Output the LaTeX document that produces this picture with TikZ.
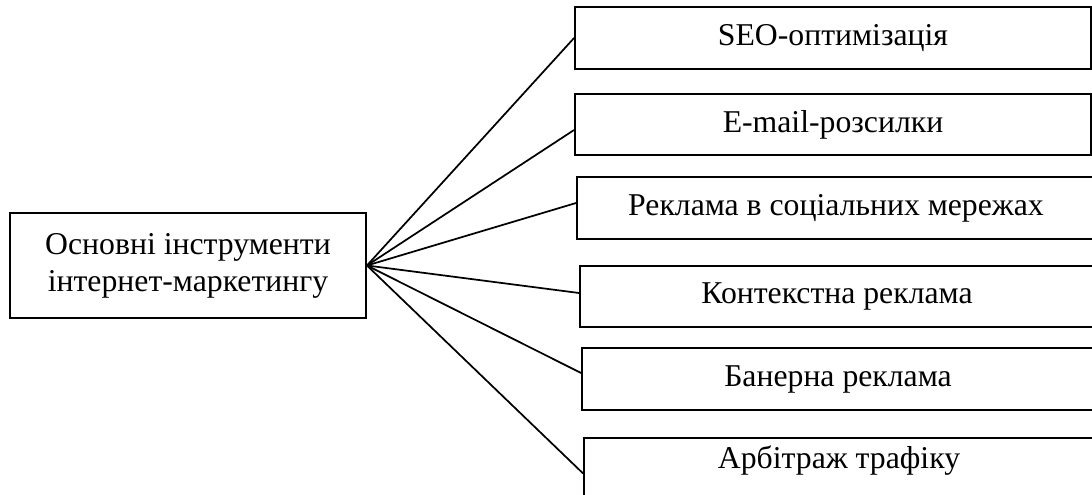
\documentclass[tikz,border=0pt]{standalone}
\usepackage{fontspec}
\setmainfont{Liberation Serif}
\usetikzlibrary{calc}
\begin{document}
\begin{tikzpicture}[x=0.75pt,y=-0.75pt,
  box/.style={draw,line width=1.4pt,inner sep=0pt,font=\fontsize{23.8}{27.75}\selectfont,align=center},
  conn/.style={line width=1.3pt}]
\useasboundingbox (0,0) rectangle (1092,495);
\clip (0,0) rectangle (1092,495);
\node[box,minimum width=356*0.75pt,minimum height=105*0.75pt] (main) at (188,265.5) {Основні інструменти\\інтернет-маркетингу};
\node[box,minimum width=516*0.75pt,minimum height=62*0.75pt] (b1) at (833,38) {SEO-оптимізація};
\node[box,minimum width=516*0.75pt,minimum height=61*0.75pt] (b2) at (833,124.5) {E-mail-розсилки};
\node[box,minimum width=518*0.75pt,minimum height=62*0.75pt] (b3) at (836,208) {Реклама в соціальних мережах};
\node[box,minimum width=514*0.75pt,minimum height=61*0.75pt] (b4) at (837,296.5) {Контекстна реклама};
\node[box,minimum width=512*0.75pt,minimum height=62*0.75pt] (b5) at (838,379) {Банерна реклама};
\node[box,anchor=north,minimum width=510*0.75pt,text height=31*0.75pt,text depth=40*0.75pt] (b6) at (839,437) {Арбітраж трафіку};
\draw[conn] (main.east) -- (b1.west);
\draw[conn] (main.east) -- ($(b2.west)+(0,5.5)$);
\draw[conn] (main.east) -- ($(b3.west)+(0,-5)$);
\draw[conn] (main.east) -- ($(b4.west)+(0,-3.5)$);
\draw[conn] (main.east) -- ($(b5.west)+(0,-6)$);
\draw[conn] (main.east) -- (b6.west);
\end{tikzpicture}
\end{document}
